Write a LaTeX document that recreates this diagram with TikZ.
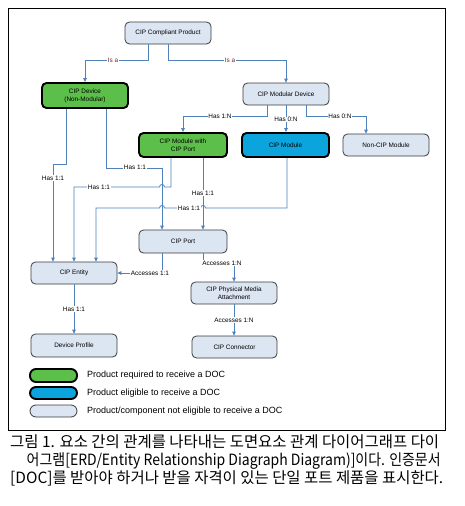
\documentclass[tikz,border=0pt]{standalone}
\usepackage{fontspec}
\setmainfont{Liberation Sans}
\newfontfamily\cjk{Noto Sans CJK KR}
\usetikzlibrary{arrows.meta}
\definecolor{lnblue}{HTML}{4F81BD}
\definecolor{boxfill}{HTML}{DCE5F2}
\definecolor{boxedge}{HTML}{3C3C3C}
\definecolor{reqgreen}{HTML}{5CBF4A}
\definecolor{eligblue}{HTML}{0CA4DC}
\definecolor{isared}{HTML}{6E2828}
\tikzset{
  ent/.style={draw=boxedge, line width=0.8pt, fill=boxfill, rounded corners=4.5pt,
    inner sep=0pt, align=center, font=\fontsize{6.4}{8}\selectfont, text=black},
  req/.style={ent, draw=black, line width=1.9pt, fill=reqgreen},
  elig/.style={ent, draw=black, line width=1.9pt, fill=eligblue},
  conn/.style={draw=lnblue, line width=0.8pt, -{Triangle[length=4pt,width=3.6pt]}},
  lbl/.style={fill=white, inner sep=0.6pt, font=\fontsize{6.4}{7}\selectfont, text=black},
  isalbl/.style={lbl, text=isared},
  legtxt/.style={anchor=west, inner sep=0pt, font=\fontsize{9}{10}\selectfont},
  pill/.style={rounded corners=6pt, minimum width=47pt, inner sep=0pt},
  captxt/.style={anchor=base west, inner sep=0pt}
}
\begin{document}
\begin{tikzpicture}[x=1pt,y=-1pt]
\useasboundingbox (0,0) rectangle (464,506);
\fill[white] (0,0) rectangle (464,506);
\draw[line width=0.9pt] (8,8) rectangle (445,430);

% nodes
\node[ent, minimum width=86pt, minimum height=22pt] (ccp) at (168,33) {CIP Compliant Product};
\node[req, minimum width=86pt, minimum height=25pt] (dev) at (85,95.5) {CIP Device\\(Non-Modular)};
\node[ent, minimum width=86pt, minimum height=22pt] (mod) at (286,94) {CIP Modular Device};
\node[req, minimum width=88pt, minimum height=24pt] (mwp) at (183,145) {CIP Module with\\CIP Port};
\node[elig, minimum width=87pt, minimum height=24pt] (cm) at (285.5,145) {CIP Module};
\node[ent, minimum width=86pt, minimum height=22pt] (ncm) at (386,145) {Non-CIP Module};
\node[ent, minimum width=88pt, minimum height=23pt] (port) at (183,241.5) {CIP Port};
\node[ent, minimum width=86pt, minimum height=22pt] (cent) at (74,273) {CIP Entity};
\node[ent, minimum width=86pt, minimum height=22pt] (pma) at (234,293) {CIP Physical Media\\Attachment};
\node[ent, minimum width=86pt, minimum height=23pt] (prof) at (74,345.5) {Device Profile};
\node[ent, minimum width=85pt, minimum height=22pt] (cconn) at (234.5,347) {CIP Connector};

% connectors
\draw[conn] ([xshift=-20pt]ccp.south) -- ++(0,16) -| (dev.north);
\draw[conn] (ccp.south) -- ++(0,16) -| (mod.north);
\draw[conn] ([xshift=-19pt]mod.south) -- ++(0,11) -| (mwp.north);
\draw[conn] (mod.south) -- (mod.south |- cm.north);
\draw[conn] ([xshift=20pt]mod.south) -- ++(0,11) -| ([xshift=-20pt]ncm.north);
\draw[conn] ([xshift=-19pt]dev.south) -- ++(0,55) -| ([xshift=-21pt]cent.north);
\draw[conn] ([xshift=21pt]dev.south) -- ++(0,59) -| ([xshift=-21pt]port.north);
\draw[conn] ([xshift=-12pt]mwp.south) -- (171,187) -- (164.5,187)
   .. controls (164.5,183.7) and (159.5,183.7) .. (159.5,187) -- (74,187) -- (cent.north);
\draw[conn] ([xshift=20pt]mwp.south) -- ([xshift=20pt]port.north);
\draw[conn] ([xshift=1.5pt]cm.south) -- (287,208) -- (205.5,208)
   .. controls (205.5,204.7) and (200.5,204.7) .. (200.5,208) -- (164.5,208)
   .. controls (164.5,204.7) and (159.5,204.7) .. (159.5,208) -- (96,208) -- ([xshift=22pt]cent.north);
\draw[conn] ([xshift=-21pt]port.south) |- (cent.east);
\draw[conn] ([xshift=20pt]port.south) -- ++(0,10) -| (pma.north);
\draw[conn] (pma.south) -- (pma.south |- cconn.north);
\draw[conn] (cent.south) -- (prof.north);

% labels
\node[isalbl] (l1) at (113,60) {Is a};
\node[isalbl] (l2) at (230,60) {Is a};
\node[lbl] (l3) at (220,116) {Has 1:N};
\node[lbl] (l4) at (286,119.5) {Has 0:N};
\node[lbl] (l5) at (340,116) {Has 0:N};
\node[lbl] (l6) at (53,178) {Has 1:1};
\node[lbl] (l7) at (135,167) {Has 1:1};
\node[lbl] (l8) at (99,187) {Has 1:1};
\node[lbl] (l9) at (203,193) {Has 1:1};
\node[lbl] (l10) at (189,208) {Has 1:1};
\node[lbl] (l11) at (150,273) {Accesses 1:1};
\node[lbl] (l12) at (222,263) {Accesses 1:N};
\node[lbl] (l13) at (234,320) {Accesses 1:N};
\node[lbl] (l14) at (74,309) {Has 1:1};

% legend
\node[pill, draw=black, line width=1.9pt, fill=reqgreen, minimum height=13pt] (lg1) at (53.5,375.5) {};
\node[pill, draw=black, line width=1.9pt, fill=eligblue, minimum height=12pt] (lg2) at (53.5,393) {};
\node[pill, draw=boxedge, line width=0.8pt, fill=boxfill, minimum height=12pt] (lg3) at (53.5,411) {};
\node[legtxt] (lt1) at (87,375) {Product required to receive a DOC};
\node[legtxt] (lt2) at (87,393) {Product eligible to receive a DOC};
\node[legtxt] (lt3) at (87,411) {Product/component not eligible to receive a DOC};

% caption
\node[captxt] (cap1) at (10,447.5)
  {\resizebox{429pt}{\height}{\cjk\fontsize{15.5}{15.5}\selectfont 그림 1. 요소 간의 관계를 나타내는 도면요소 관계 다이어그래프 다이}};
\node[captxt] (cap2) at (26.5,465.5)
  {\resizebox{414pt}{\height}{\cjk\fontsize{15.5}{15.5}\selectfont 어그램[ERD/Entity Relationship Diagraph Diagram)]이다. 인증문서}};
\node[captxt] (cap3) at (10,483)
  {\resizebox{433pt}{\height}{\cjk\fontsize{15.5}{15.5}\selectfont [DOC]를 받아야 하거나 받을 자격이 있는 단일 포트 제품을 표시한다.}};
\end{tikzpicture}
\end{document}
